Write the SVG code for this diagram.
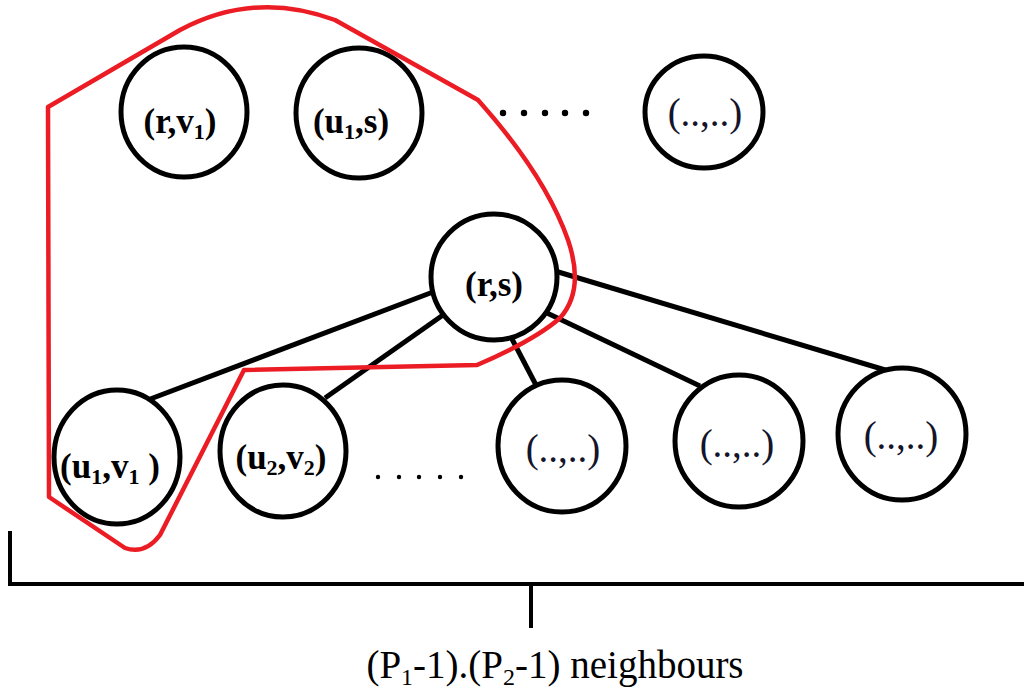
<svg xmlns="http://www.w3.org/2000/svg" width="1024" height="693" viewBox="0 0 1024 693">
  <style>
    .node { fill: #ffffff; stroke: #000000; stroke-width: 5; }
    .edge { stroke: #000000; stroke-width: 5; stroke-linecap: butt; fill: none; }
    .lbl { font-family: "Liberation Serif", "DejaVu Serif", serif; font-weight: bold; font-size: 35px; fill: #000000; text-anchor: middle; }
    .sub { font-size: 22px; }
    .anon { font-family: "Liberation Serif", "DejaVu Serif", serif; font-size: 39px; fill: #14142a; text-anchor: middle; }
    .hull { fill: none; stroke: #ec1c24; stroke-width: 4.5; stroke-linejoin: round; }
    .bracket { fill: none; stroke: #000000; stroke-width: 4; }
    .caption { font-family: "Liberation Serif", "DejaVu Serif", serif; font-size: 39px; fill: #000000; text-anchor: middle; }
  </style>

  <!-- edges from (r,s) to its neighbours -->
  <g id="connectors">
    <line class="edge" x1="433" y1="292" x2="145" y2="401"/>
    <line class="edge" x1="443" y1="315" x2="325" y2="398"/>
    <line class="edge" x1="512" y1="339" x2="536" y2="385"/>
    <line class="edge" x1="547" y1="313" x2="700" y2="386"/>
    <line class="edge" x1="555" y1="271" x2="892" y2="372"/>
  </g>

  <g id="node-r-v1">
    <ellipse class="node" cx="184" cy="112" rx="63" ry="65"/>
    <text class="lbl" x="180" y="133">(r,v<tspan class="sub" dy="6">1</tspan><tspan dy="-6">)</tspan></text>
  </g>

  <g id="node-u1-s">
    <ellipse class="node" cx="359" cy="113" rx="63" ry="65"/>
    <text class="lbl" x="351" y="133">(u<tspan class="sub" dy="6">1</tspan><tspan dy="-6">,s)</tspan></text>
  </g>

  <g id="node-top-other">
    <ellipse class="node" cx="704" cy="112" rx="59" ry="56"/>
    <text class="anon" x="705" y="126">(..,..)</text>
  </g>

  <g id="top-dots" fill="#000000">
    <circle cx="503" cy="113" r="3.2"/>
    <circle cx="524" cy="113" r="3.2"/>
    <circle cx="545" cy="113" r="3.2"/>
    <circle cx="565" cy="113" r="3.2"/>
    <circle cx="586" cy="113" r="3.2"/>
  </g>

  <g id="node-r-s">
    <ellipse class="node" cx="494" cy="277" rx="63" ry="63"/>
    <text class="lbl" x="494" y="296">(r,s)</text>
  </g>

  <g id="node-u1-v1">
    <ellipse class="node" cx="117" cy="457" rx="63" ry="67"/>
    <text class="lbl" x="110" y="478">(u<tspan class="sub" dy="6">1</tspan><tspan dy="-6">,v</tspan><tspan class="sub" dy="6">1</tspan><tspan dy="-6"> )</tspan></text>
  </g>

  <g id="node-u2-v2">
    <ellipse class="node" cx="283" cy="451" rx="63" ry="66"/>
    <text class="lbl" x="281" y="469">(u<tspan class="sub" dy="6">2</tspan><tspan dy="-6">,v</tspan><tspan class="sub" dy="6">2</tspan><tspan dy="-6">)</tspan></text>
  </g>

  <g id="bottom-dots" fill="#000000">
    <circle cx="378" cy="477" r="2.2"/>
    <circle cx="399" cy="477" r="2.2"/>
    <circle cx="419" cy="477" r="2.2"/>
    <circle cx="440" cy="477" r="2.2"/>
    <circle cx="461" cy="477" r="2.2"/>
  </g>

  <g id="node-bottom-a">
    <ellipse class="node" cx="562" cy="446" rx="64" ry="66"/>
    <text class="anon" x="563" y="462">(..,..)</text>
  </g>

  <g id="node-bottom-b">
    <ellipse class="node" cx="739" cy="441" rx="64" ry="66"/>
    <text class="anon" x="737" y="457">(..,..)</text>
  </g>

  <g id="node-bottom-c">
    <ellipse class="node" cx="902" cy="434" rx="64" ry="66"/>
    <text class="anon" x="901" y="449">(..,..)</text>
  </g>

  <!-- red boundary around the grouped neighbours -->
  <path id="hull" class="hull" d="M 49 497 L 48 107 L 180 30 Q 255 -10 335 20 L 478 100 Q 545 175 568 240 Q 585 290 560 318 Q 535 340 477 365 L 244 370 L 160 535 Q 145 555 125 548 Z"/>

  <!-- brace marking the neighbour count -->
  <g id="bracket">
    <polyline class="bracket" points="10,531 10,584 1024,584"/>
    <line class="bracket" x1="531" y1="584" x2="531" y2="628"/>
  </g>

  <text id="caption" class="caption" x="555" y="678">(P<tspan font-size="24" dy="7">1</tspan><tspan dy="-7">-1).(P</tspan><tspan font-size="24" dy="7">2</tspan><tspan dy="-7">-1) neighbours</tspan></text>
</svg>
